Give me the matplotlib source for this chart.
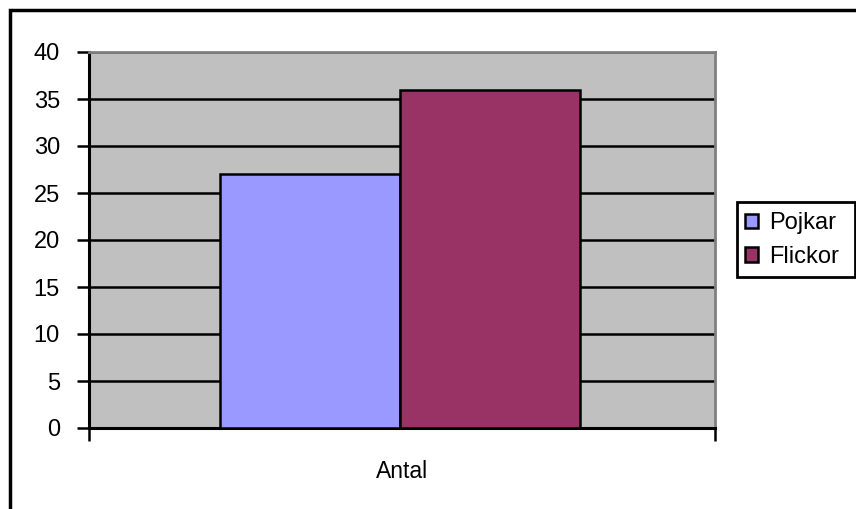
import matplotlib.pyplot as plt
from matplotlib.patches import Patch, Rectangle

plt.rcParams['font.family'] = ['Liberation Sans', 'DejaVu Sans']

category = 'Antal'
series = ['Pojkar', 'Flickor']
values = [27, 36]
colors = ['#9999FF', '#993366']
yticks = [0, 5, 10, 15, 20, 25, 30, 35, 40]

W, H = 856, 509
fig = plt.figure(figsize=(W / 100, H / 100), dpi=100)
fig.patch.set_facecolor('white')


def px(x0, y0, w, h):
    # pixel box (from top-left) -> figure fraction rectangle
    return (x0 / W, 1 - (y0 + h) / H, w / W, h / H)


# outer chart frame (left/top edges visible)
fig.patches.append(Rectangle((10 / W, -0.05), 1.1, 1 - 10 / H + 0.05,
                             transform=fig.transFigure, fill=False,
                             edgecolor='black', linewidth=2.5, zorder=0))

ax = fig.add_axes(px(89, 52, 715 - 89, 428 - 52))
ax.set_facecolor('#C0C0C0')

width = 0.287
center = -0.003
offsets = [center - width / 2, center + width / 2]
for off, v, c in zip(offsets, values, colors):
    ax.bar(off, v, width=width, color=c, edgecolor='black', linewidth=1.8, zorder=3)

ax.set_xlim(-0.5, 0.5)
ax.set_ylim(0, 40)
ax.set_yticks(yticks)
ax.yaxis.grid(True, color='black', linewidth=1.8, zorder=1)
ax.set_axisbelow(True)

ax.tick_params(axis='y', direction='out', length=9, width=1.8, pad=12, labelsize=17)
ax.set_xticks([0])
ax.set_xticklabels([category])
ax.tick_params(axis='x', length=0, pad=23, labelsize=16.5)
ax.set_xticks([-0.5, 0.5], minor=True)
ax.tick_params(axis='x', which='minor', direction='out', length=9, width=1.8)

for s in ['left', 'bottom']:
    ax.spines[s].set_linewidth(2.2)
    ax.spines[s].set_color('black')
for s in ['top', 'right']:
    ax.spines[s].set_linewidth(2)
    ax.spines[s].set_color('#808080')

# legend box
x0, y0, x1, y1 = 737, 202, 855, 277
fig.patches.append(Rectangle((x0 / W, 1 - y1 / H), (x1 - x0) / W, (y1 - y0) / H,
                             transform=fig.transFigure, fill=True, facecolor='white',
                             edgecolor='black', linewidth=2, zorder=1))
handles = [Patch(facecolor=c, edgecolor='black', linewidth=1.8) for c in colors]
leg = fig.legend(handles, series, loc='center left',
                 bbox_to_anchor=(745 / W, 1 - 240 / H), fontsize=17,
                 frameon=False, handlelength=0.56, handleheight=0.56,
                 handletextpad=0.45, borderpad=0, labelspacing=0.5,
                 borderaxespad=0)
leg.set_zorder(2)

fig.savefig('out.png', dpi=100)
